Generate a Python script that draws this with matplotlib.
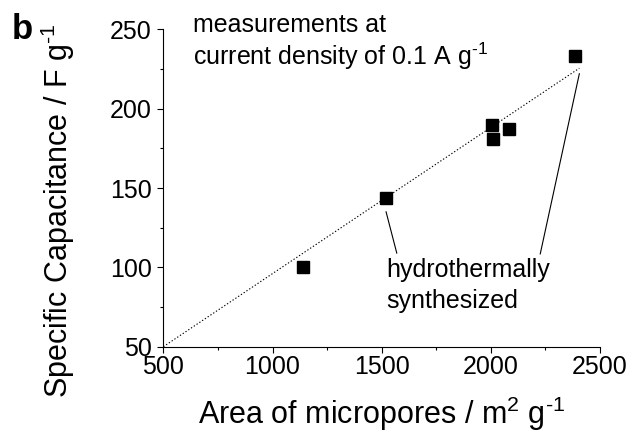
import matplotlib
matplotlib.use("Agg")
import matplotlib.pyplot as plt
from matplotlib.ticker import MultipleLocator

plt.rcParams['font.family'] = ['Liberation Sans', 'DejaVu Sans']
plt.rcParams['mathtext.fontset'] = 'custom'
plt.rcParams['mathtext.rm'] = 'Liberation Sans'
plt.rcParams['mathtext.it'] = 'Liberation Sans:italic'
plt.rcParams['mathtext.bf'] = 'Liberation Sans:bold'

# data
area = [1140, 1520, 2003, 2009, 2081, 2386]
capacitance = [100, 143.5, 190, 181, 187, 233]
fit_x = [500, 2405]
fit_y = [50, 225.5]
# annotation leader lines: (start point, end point)
lead1_x = [1520, 1569]
lead1_y = [135, 109]
lead2_x = [2405, 2226]
lead2_y = [222, 108.5]

x_ticks = [500, 1000, 1500, 2000, 2500]
y_ticks = [50, 100, 150, 200, 250]

SUP_M1 = r'$^{\mathregular{\u2010}1}$'.replace(r'\u2010', '\u2010')
SUP_2 = r'$^{\mathregular{2}}$'

fig = plt.figure(figsize=(6.33, 4.38), dpi=100)
ax = fig.add_axes([0.258, 0.2084, 0.690, 0.7247])

ax.plot(fit_x, fit_y, color='black', lw=0.8, linestyle=(0, (1.2, 1.8)), zorder=1)
ax.plot(lead1_x, lead1_y, color='black', lw=0.8, zorder=1)
ax.plot(lead2_x, lead2_y, color='black', lw=0.8, zorder=1)
ax.plot(area, capacitance, linestyle='none', marker='s', ms=8.5,
        color='black', zorder=3, clip_on=False)

ax.set_xlim(500, 2500)
ax.set_ylim(50, 250)
ax.set_xticks(x_ticks)
ax.set_yticks(y_ticks)
ax.xaxis.set_minor_locator(MultipleLocator(250))
ax.yaxis.set_minor_locator(MultipleLocator(25))

for s in ['top', 'right']:
    ax.spines[s].set_visible(False)
for s in ['left', 'bottom']:
    ax.spines[s].set_linewidth(0.8)

ax.tick_params(axis='both', which='major', direction='out', length=4.3,
               width=0.8, labelsize=18)
ax.tick_params(axis='both', which='minor', direction='out', length=2.5, width=0.8)
ax.tick_params(axis='x', which='major', pad=1.8)
ax.tick_params(axis='y', which='major', pad=4)

ax.set_xlabel('Area of micropores / m' + SUP_2 + ' g' + SUP_M1,
              fontsize=22, labelpad=11)
ax.set_ylabel('Specific Capacitance / F g' + SUP_M1, fontsize=22)
ax.yaxis.set_label_coords(-0.198, 0.4275)

ax.text(635, 248.5, 'measurements at', fontsize=18, va='baseline', ha='left')
ax.text(635, 227.5, 'current density of 0.1 A g' + SUP_M1,
        fontsize=18, va='baseline', ha='left')
ax.text(1523, 93.7, 'hydrothermally', fontsize=18, va='baseline', ha='left')
ax.text(1523, 74.2, 'synthesized', fontsize=18, va='baseline', ha='left')

fig.text(11.7 / 633, 1 - 39.3 / 438, 'b', fontsize=25, fontweight='bold',
         va='baseline', ha='left')

fig.savefig('out.png', dpi=100)
